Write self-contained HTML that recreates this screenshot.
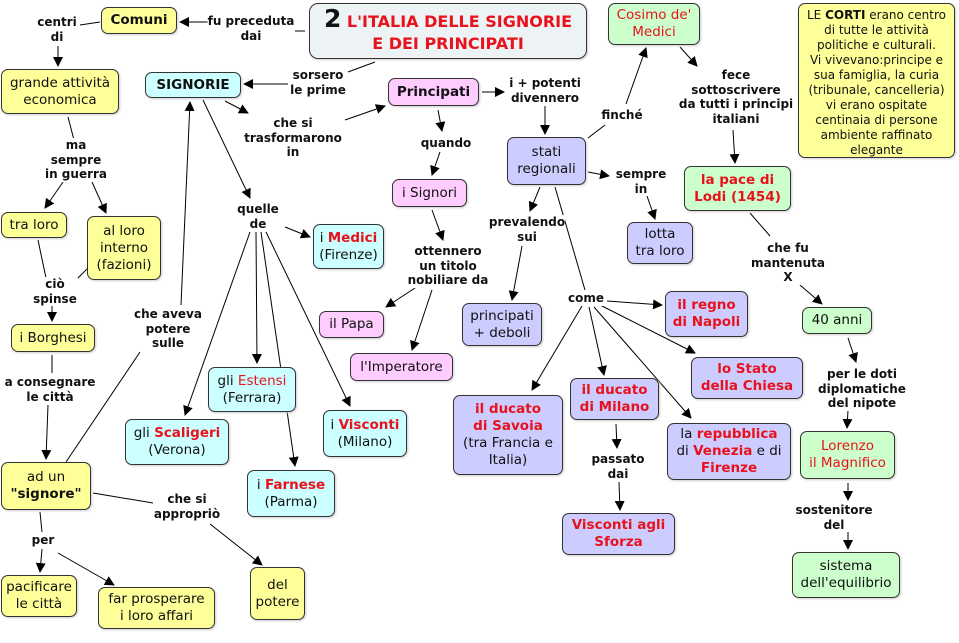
<!DOCTYPE html>
<html><head><meta charset="utf-8"><style>
body{margin:0;width:959px;height:643px;background:#fff;position:relative;overflow:hidden;font-family:"DejaVu Sans","Liberation Sans",sans-serif}
.b{position:absolute;box-sizing:border-box;border:1px solid #333;border-radius:7px;display:flex;align-items:center;justify-content:center;text-align:center;font-size:13.5px;line-height:17px;color:#111;box-shadow:1px 1px 2px #ccc;white-space:nowrap}
.y{background:#ffff99}.c{background:#ccffff}.p{background:#ffccff}.v{background:#ccccff}.g{background:#ccffcc}
.r{color:#e8121c;font-weight:bold}.rn{color:#e8121c}
.l{position:absolute;font-size:12px;font-weight:bold;line-height:14.5px;text-align:center;color:#111;background:#fff;white-space:nowrap;transform:translateX(-50%)}
svg{position:absolute;left:0;top:0}
</style></head><body>
<svg width="959" height="643"><defs><marker id="a" markerWidth="10" markerHeight="10" refX="9" refY="5" orient="auto" markerUnits="userSpaceOnUse"><path d="M0,0 L10,5 L0,10 z" fill="#000"/></marker></defs>
<g stroke="#000" stroke-width="1" fill="none">
<line x1="305" y1="31" x2="295" y2="31"/><line x1="208" y1="22" x2="180" y2="22" marker-end="url(#a)"/>
<line x1="100" y1="22" x2="80" y2="25"/><line x1="58" y1="46" x2="58" y2="66" marker-end="url(#a)"/>
<line x1="375" y1="62" x2="348" y2="72"/><line x1="288" y1="84" x2="244" y2="84" marker-end="url(#a)"/>
<line x1="225" y1="101" x2="248" y2="113" marker-end="url(#a)"/><line x1="345" y1="120" x2="385" y2="106" marker-end="url(#a)"/>
<line x1="482" y1="92" x2="504" y2="92" marker-end="url(#a)"/><line x1="545" y1="106" x2="545" y2="134" marker-end="url(#a)"/>
<line x1="438" y1="110" x2="442" y2="131" marker-end="url(#a)"/><line x1="440" y1="152" x2="432" y2="175" marker-end="url(#a)"/>
<line x1="588" y1="138" x2="605" y2="125"/><line x1="626" y1="104" x2="646" y2="48" marker-end="url(#a)"/>
<line x1="680" y1="47" x2="697" y2="66" marker-end="url(#a)"/><line x1="733" y1="130" x2="735" y2="163" marker-end="url(#a)"/>
<line x1="588" y1="172" x2="609" y2="176" marker-end="url(#a)"/><line x1="647" y1="196" x2="655" y2="219" marker-end="url(#a)"/>
<line x1="540" y1="187" x2="530" y2="211" marker-end="url(#a)"/><line x1="522" y1="246" x2="512" y2="300" marker-end="url(#a)"/>
<line x1="555" y1="187" x2="585" y2="290"/>
<line x1="607" y1="301" x2="662" y2="305" marker-end="url(#a)"/><line x1="600" y1="305" x2="695" y2="353" marker-end="url(#a)"/>
<line x1="589" y1="307" x2="604" y2="375" marker-end="url(#a)"/><line x1="582" y1="306" x2="532" y2="390" marker-end="url(#a)"/>
<line x1="594" y1="307" x2="691" y2="418" marker-end="url(#a)"/>
<line x1="616" y1="424" x2="617" y2="448" marker-end="url(#a)"/><line x1="619" y1="482" x2="620" y2="510" marker-end="url(#a)"/>
<line x1="750" y1="213" x2="770" y2="236"/><line x1="800" y1="285" x2="822" y2="304" marker-end="url(#a)"/>
<line x1="848" y1="338" x2="856" y2="362" marker-end="url(#a)"/><line x1="848" y1="410" x2="847" y2="428" marker-end="url(#a)"/>
<line x1="848" y1="483" x2="848" y2="500" marker-end="url(#a)"/><line x1="848" y1="532" x2="848" y2="549" marker-end="url(#a)"/>
<line x1="432" y1="210" x2="443" y2="240" marker-end="url(#a)"/><line x1="415" y1="288" x2="386" y2="307" marker-end="url(#a)"/>
<line x1="432" y1="290" x2="412" y2="350" marker-end="url(#a)"/>
<line x1="203" y1="100" x2="250" y2="198" marker-end="url(#a)"/><line x1="285" y1="227" x2="310" y2="237" marker-end="url(#a)"/>
<line x1="250" y1="232" x2="185" y2="415" marker-end="url(#a)"/><line x1="256" y1="232" x2="257" y2="363" marker-end="url(#a)"/>
<line x1="261" y1="232" x2="295" y2="466" marker-end="url(#a)"/><line x1="266" y1="232" x2="350" y2="406" marker-end="url(#a)"/>
<line x1="68" y1="117" x2="74" y2="140"/><line x1="63" y1="182" x2="45" y2="208" marker-end="url(#a)"/><line x1="92" y1="182" x2="106" y2="213" marker-end="url(#a)"/>
<line x1="38" y1="240" x2="46" y2="278"/><line x1="88" y1="268" x2="78" y2="278"/>
<line x1="52" y1="305" x2="52" y2="321" marker-end="url(#a)"/>
<line x1="52" y1="355" x2="52" y2="373"/><line x1="48" y1="405" x2="46" y2="459" marker-end="url(#a)"/>
<line x1="66" y1="462" x2="140" y2="352"/><line x1="181" y1="305" x2="190" y2="102" marker-end="url(#a)"/>
<line x1="93" y1="493" x2="153" y2="503"/><line x1="210" y1="524" x2="262" y2="565" marker-end="url(#a)"/>
<line x1="40" y1="512" x2="42" y2="532"/><line x1="42" y1="549" x2="40" y2="572" marker-end="url(#a)"/><line x1="58" y1="553" x2="114" y2="585" marker-end="url(#a)"/>
</g></svg>

<div class="b y" style="left:101px;top:7px;width:76px;height:27px;font-weight:bold">Comuni</div>
<div class="b" style="left:309px;top:3px;width:278px;height:56px;background:#edf2f4;font-weight:bold;font-size:16px;line-height:22px;color:#e8121c;border-radius:9px"><div><span style="color:#111;font-size:25px">2</span> L'ITALIA DELLE SIGNORIE<br>E DEI PRINCIPATI</div></div>
<div class="b y" style="left:798px;top:3px;width:157px;height:155px;font-size:12px;line-height:15px;align-items:flex-start;padding-top:4px"><div>LE <b>CORTI</b> erano centro<br>di tutte le attività<br>politiche e culturali.<br>Vi vivevano:principe e<br>sua famiglia, la curia<br>(tribunale, cancelleria)<br>vi erano ospitate<br>centinaia di persone<br>ambiente raffinato<br>elegante</div></div>
<div class="b g rn" style="left:608px;top:3px;width:92px;height:42px">Cosimo de'<br>Medici</div>
<div class="b y" style="left:1px;top:69px;width:118px;height:45px">grande attività<br>economica</div>
<div class="b c" style="left:145px;top:72px;width:96px;height:26px;font-weight:bold">SIGNORIE</div>
<div class="b p" style="left:388px;top:78px;width:91px;height:28px;font-weight:bold">Principati</div>
<div class="b v" style="left:507px;top:137px;width:79px;height:48px">stati<br>regionali</div>
<div class="b p" style="left:392px;top:179px;width:75px;height:28px">i Signori</div>
<div class="b g r" style="left:684px;top:166px;width:107px;height:45px">la pace di<br>Lodi (1454)</div>
<div class="b y" style="left:1px;top:212px;width:66px;height:26px">tra loro</div>
<div class="b y" style="left:87px;top:216px;width:74px;height:64px">al loro<br>interno<br>(fazioni)</div>
<div class="b c" style="left:313px;top:224px;width:71px;height:45px"><div>i <span class="r">Medici</span><br>(Firenze)</div></div>
<div class="b v" style="left:627px;top:222px;width:66px;height:42px">lotta<br>tra loro</div>
<div class="b y" style="left:11px;top:324px;width:84px;height:28px">i Borghesi</div>
<div class="b p" style="left:319px;top:311px;width:65px;height:27px">il Papa</div>
<div class="b v" style="left:462px;top:303px;width:80px;height:43px">principati<br>+ deboli</div>
<div class="b v r" style="left:665px;top:291px;width:83px;height:46px">il regno<br>di Napoli</div>
<div class="b g" style="left:802px;top:307px;width:70px;height:27px">40 anni</div>
<div class="b p" style="left:350px;top:353px;width:103px;height:28px">l'Imperatore</div>
<div class="b v r" style="left:691px;top:357px;width:112px;height:42px">lo Stato<br>della Chiesa</div>
<div class="b c" style="left:208px;top:367px;width:88px;height:45px"><div>gli <span class="rn">Estensi</span><br>(Ferrara)</div></div>
<div class="b v r" style="left:570px;top:378px;width:89px;height:42px">il ducato<br>di Milano</div>
<div class="b v" style="left:453px;top:395px;width:110px;height:80px"><div><span class="r">il ducato<br>di Savoia</span><br>(tra Francia e<br>Italia)</div></div>
<div class="b v" style="left:667px;top:423px;width:124px;height:57px"><div>la <span class="r">repubblica</span><br>di <span class="r">Venezia</span> e di<br><span class="r">Firenze</span></div></div>
<div class="b c" style="left:125px;top:419px;width:104px;height:46px"><div>gli <span class="r">Scaligeri</span><br>(Verona)</div></div>
<div class="b c" style="left:323px;top:410px;width:84px;height:47px"><div>i <span class="r">Visconti</span><br>(Milano)</div></div>
<div class="b g rn" style="left:800px;top:431px;width:95px;height:48px">Lorenzo<br>il Magnifico</div>
<div class="b y" style="left:1px;top:462px;width:90px;height:48px"><div>ad un<br><b>"signore"</b></div></div>
<div class="b c" style="left:247px;top:470px;width:88px;height:47px"><div>i <span class="r">Farnese</span><br>(Parma)</div></div>
<div class="b v r" style="left:562px;top:513px;width:113px;height:42px">Visconti agli<br>Sforza</div>
<div class="b g" style="left:792px;top:552px;width:108px;height:46px">sistema<br>dell'equilibrio</div>
<div class="b y" style="left:1px;top:575px;width:76px;height:42px">pacificare<br>le città</div>
<div class="b y" style="left:98px;top:587px;width:117px;height:42px">far prosperare<br>i loro affari</div>
<div class="b y" style="left:250px;top:567px;width:55px;height:53px">del<br>potere</div>

<div class="l" style="left:57px;top:15px">centri<br>di</div>
<div class="l" style="left:251px;top:14px">fu preceduta<br>dai</div>
<div class="l" style="left:318px;top:68px">sorsero<br>le prime</div>
<div class="l" style="left:293px;top:116px">che si<br>trasformarono<br>in</div>
<div class="l" style="left:545px;top:76px">i + potenti<br>divennero</div>
<div class="l" style="left:736px;top:68px">fece<br>sottoscrivere<br>da tutti i principi<br>italiani</div>
<div class="l" style="left:622px;top:108px">finché</div>
<div class="l" style="left:446px;top:136px">quando</div>
<div class="l" style="left:641px;top:167px">sempre<br>in</div>
<div class="l" style="left:527px;top:215px">prevalendo<br>sui</div>
<div class="l" style="left:76px;top:138px">ma<br>sempre<br>in guerra</div>
<div class="l" style="left:258px;top:202px">quelle<br>de</div>
<div class="l" style="left:448px;top:244px">ottennero<br>un titolo<br>nobiliare da</div>
<div class="l" style="left:788px;top:241px">che fu<br>mantenuta<br>X</div>
<div class="l" style="left:55px;top:277px">ciò<br>spinse</div>
<div class="l" style="left:168px;top:307px">che aveva<br>potere<br>sulle</div>
<div class="l" style="left:586px;top:291px">come</div>
<div class="l" style="left:50px;top:375px">a consegnare<br>le città</div>
<div class="l" style="left:862px;top:367px">per le doti<br>diplomatiche<br>del nipote</div>
<div class="l" style="left:618px;top:452px">passato<br>dai</div>
<div class="l" style="left:187px;top:492px">che si<br>appropriò</div>
<div class="l" style="left:834px;top:503px">sostenitore<br>del</div>
<div class="l" style="left:43px;top:533px">per</div>
</body></html>
